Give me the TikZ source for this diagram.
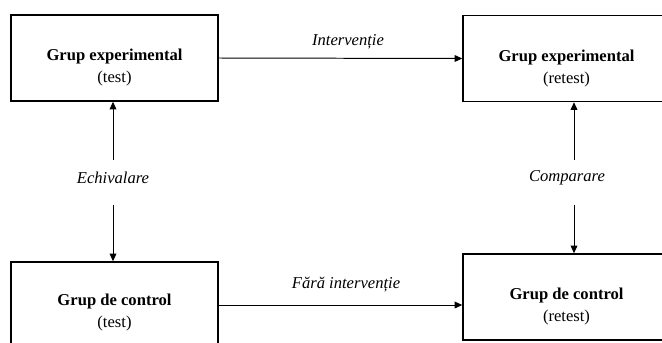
\documentclass[tikz,border=0pt]{standalone}
\usepackage{fontspec}
\setmainfont{Liberation Serif}
\usetikzlibrary{arrows.meta, calc}

\tikzset{
  grupbox/.style={draw, line width=1pt, minimum width=207*0.025cm, minimum height=86*0.025cm, inner sep=0pt},
  grupText/.style={align=center, font=\fontsize{11.8}{15.6}\selectfont},
  legText/.style={font=\fontsize{11.8}{14}\selectfont\itshape, inner sep=1pt}
}

\begin{document}
\begin{tikzpicture}[x=0.025cm, y=-0.025cm, >={Triangle[length=5.5pt, width=4.8pt]}, line width=0.7pt]
  \useasboundingbox (0,0) rectangle (662,342);
  \clip (0,0) rectangle (662,342);
  % ===== grupuri =====
  \node[grupbox] (te) at (114.5,58) {};
  \node[grupbox] (tr) at (566.5,58.5) {};
  \node[grupbox] (ce) at (114.5,305) {};
  \node[grupbox] (cr) at (566.5,297) {};
  \node[grupText] at ([yshift=-7pt]te.center) {\textbf{Grup experimental}\\(test)};
  \node[grupText] at ([yshift=-7pt]tr.center) {\textbf{Grup experimental}\\(retest)};
  \node[grupText] at ([yshift=-5.5pt]ce.center) {\textbf{Grup de control}\\(test)};
  \node[grupText] at ([yshift=-6.5pt]cr.center) {\textbf{Grup de control}\\(retest)};
  % ===== orizontal =====
  \draw[->] (te.east) -- (tr.west);
  \node[legText] (interv) at (348,42) {Intervenție};
  \draw[->] (ce.east) -- (ce.east -| cr.west);
  \node[legText] (farainterv) at (346,285) {Fără intervenție};
  % ===== vertical =====
  \node[legText] (echiv) at (113,178) {Echivalare};
  \coordinate (e1) at (113,160); \coordinate (e2) at (113,205);
  \draw[->] (e1) -- (e1 |- te.south);
  \draw[->] (e2) -- (e2 |- ce.north);
  \node[legText] (comp) at (567,178) {Comparare};
  \coordinate (c1) at (574,160); \coordinate (c2) at (574,205);
  \draw[->] (c1) -- (c1 |- tr.south);
  \draw[->] (c2) -- (c2 |- cr.north);
\end{tikzpicture}
\end{document}
